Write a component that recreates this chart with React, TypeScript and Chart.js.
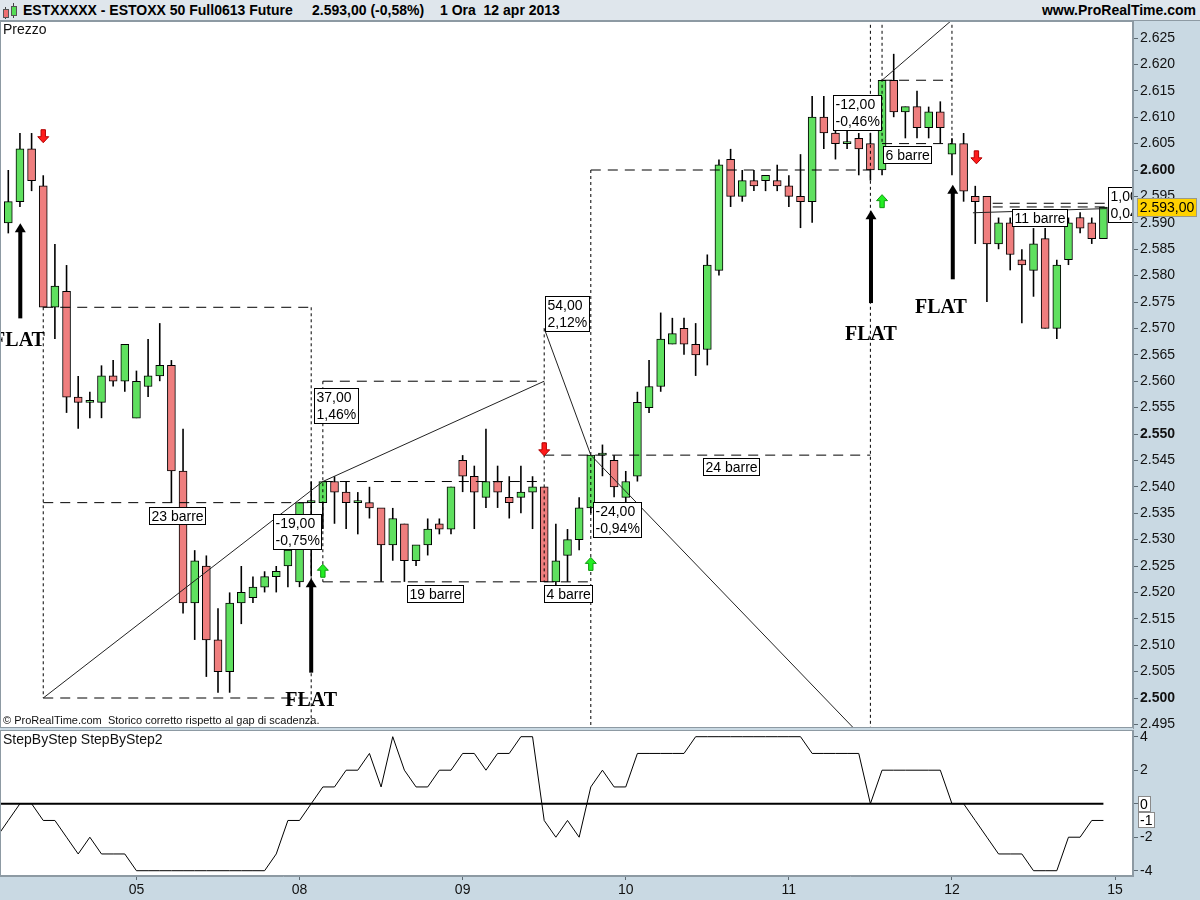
import React, { useEffect, useRef } from 'react';
import { Chart, registerables } from 'chart.js';

Chart.register(...registerables);

const FONT = 'Arial, "Liberation Sans", Helvetica, sans-serif';
const SERIF = '"Times New Roman", "Liberation Serif", "DejaVu Serif", serif';
const AXIS_BG = '#c9d9e3';
const HEADER_BG = '#dfe6ec';
const BORDER = '#8d9aa3';
const GREEN = '#5fe05f';
const RED = '#ef7e7e';

// ---------------- data ----------------
const dayLabels = ['05', '08', '09', '10', '11', '12', '15'];
const dayStartIndex = [11, 25, 39, 53, 67, 81, 95];

const opens = [2590,2594,2604,2597,2574,2577,2557,2556,2556,2561, 2560,2553,2559,2561,2563,2543,2518,2525,2511,2505, 2518,2519,2521,2523,2525,2522,2537,2537,2541,2539, 2537,2537,2536,2529,2533,2526,2529,2533,2532,2545, 2542,2538,2541,2538,2538,2539,2540,2522,2527,2530, 2536,2546,2545,2538,2542,2555,2559,2567,2570,2567, 2566,2581,2602,2595,2598,2598,2598,2597,2595,2594, 2610,2607,2605,2606,2605,2600,2617,2611,2612,2608, 2611,2603,2605,2595,2595,2586,2590,2583,2581,2587, 2570,2583,2591,2590,2587];
const highs = [2600,2607,2607,2599,2586,2582,2561,2558,2563,2564, 2567,2562,2568,2571,2564,2551,2528,2527,2517,2520, 2525,2523,2524,2525,2530,2537,2541,2541,2542,2541, 2539,2540,2536,2536,2533,2529,2534,2534,2540,2546, 2544,2551,2544,2542,2544,2542,2540,2533,2532,2538, 2546,2548,2546,2543,2558,2564,2573,2572,2572,2571, 2584,2602,2604,2600,2600,2599,2601,2599,2603,2614, 2614,2609,2608,2607,2607,2617,2622,2612,2615,2612, 2613,2606,2607,2597,2595,2591,2591,2585,2589,2589, 2583,2591,2592,2591,2593];
const lows = [2588,2593,2596,2574,2568,2554,2551,2553,2553,2559, 2558,2553,2557,2560,2537,2516,2511,2504,2501,2501, 2514,2518,2520,2520,2521,2521,2523,2532,2533,2532, 2531,2534,2522,2526,2522,2525,2527,2531,2531,2539, 2532,2536,2536,2534,2535,2532,2522,2521,2522,2528, 2535,2542,2538,2536,2541,2554,2558,2567,2565,2561, 2563,2580,2593,2594,2596,2596,2596,2593,2589,2590, 2604,2602,2604,2599,2598,2599,2610,2606,2606,2606, 2605,2599,2594,2586,2575,2585,2581,2571,2576,2570, 2568,2582,2588,2586,2587];
const closes = [2594,2604,2598,2574,2578,2557,2556,2556,2561,2560, 2567,2560,2561,2563,2543,2518,2526,2511,2505,2518, 2520,2521,2523,2524,2528,2537,2537,2541,2539,2537, 2537,2536,2529,2534,2526,2529,2532,2532,2540,2542, 2539,2541,2539,2537,2539,2540,2522,2526,2530,2536, 2546,2546,2540,2541,2556,2559,2568,2569,2567,2565, 2582,2601,2595,2598,2597,2599,2597,2595,2594,2610, 2607,2605,2605,2604,2600,2617,2611,2612,2608,2611, 2608,2605,2596,2594,2586,2590,2584,2582,2586,2570, 2582,2590,2589,2587,2593];

// StepByStep indicator, first value belongs to bar index -1
const stepByStep = [-2,
  -1,0,0,-1,-1,-2,-3,-2,-3,-3,
  -3,-4,-4,-4,-4,-4,-4,-4,-4,-4,
  -4,-4,-4,-3,-1,-1,0,1,1,2,
  2,3,1,4,2,1,1,2,2,3,
  3,2,3,3,4,4,-1,-2,-1,-2,
  1,2,1,1,3,3,3,3,3,4,
  4,4,4,4,4,4,4,4,4,3,
  3,3,3,3,0,2,2,2,2,2,
  2,0,0,-1,-2,-3,-3,-3,-4,-4,
  -4,-2,-2,-1,-1];
const stepByStep2Level = 0;

const priceTicks = [2495,2500,2505,2510,2515,2520,2525,2530,2535,2540,2545,2550,2555,2560,2565,2570,2575,2580,2585,2590,2595,2600,2605,2610,2615,2620,2625];
const indicatorTicks = [-4,-3,-2,-1,0,1,2,3,4];
const indicatorLabelled = [-4,-2,2,4];

// drawing objects (bar index, price)
const levelLines = [ // [price, fromIndex, toIndex]
  [2574, 3, 26], [2537, 3, 26], [2500, 3, 26],
  [2560, 27, 46], [2541, 27, 46], [2522, 27, 50],
  [2546, 46, 74], [2600, 50, 74],
  [2617, 75, 81], [2605, 75, 81],
  [2593.7, 84.5, 94.3], [2593.0, 84.5, 94.3],
];
const verticalLines = [ // [index, fromPrice, toPrice]
  [3, 2574, 2500], [26, 2574, 2480], [27, 2560, 2522], [46, 2570, 2522],
  [50, 2600, 2480], [74, 2640, 2480], [75, 2640, 2605], [81, 2640, 2605],
];
const trendLines = [ // [i1, p1, i2, p2]
  [3, 2500, 27, 2541], [27, 2541, 46, 2560], [46, 2570, 50, 2546],
  [50, 2546, 74, 2491], [75, 2617, 82, 2630.3], [82.8, 2591.9, 94.3, 2592.7],
];
const countLabels = [ // [index, price, text]
  [12.08, 2536.2, '23 barre'], [34.2, 2521.4, '19 barre'], [46.0, 2521.4, '4 barre'],
  [59.66, 2545.4, '24 barre'], [75.05, 2604.5, '6 barre'], [86.18, 2592.6, '11 barre'],
];
const changeLabels = [ // [index, price, points, percent]
  [22.75, 2534.8, '-19,00', '-0,75%'], [26.2, 2558.7, '37,00', '1,46%'],
  [46.07, 2576.1, '54,00', '2,12%'], [50.2, 2537.2, '-24,00', '-0,94%'],
  [70.8, 2614.2, '-12,00', '-0,46%'], [94.36, 2596.7, '1,00', '0,04'],
];
const flatArrows = [ // [index, tipPrice, basePrice]
  [1.03, 2589.9, 2571.9], [26, 2522.7, 2504.8], [74.05, 2592.4, 2574.8], [81.07, 2597.2, 2579.3],
];
const flatLabels = [ // [index, price]
  [0.92, 2567.8], [26, 2499.6], [74.05, 2568.9], [80.05, 2574.1],
];
const buySignals = [[27, 2524.1], [50, 2525.4], [75, 2594.1]];
const sellSignals = [[3, 2606.4], [46, 2547.1], [83.1, 2602.4]];

// ---------------- scales ----------------
const X_MIN = -0.712;
const X_MAX = 96.54;
const P_MAX = 2628.22;
const P_MIN = 2494.32;
const IND_MAX = 4.4;
const IND_MIN = -4.316;

const fmtThousands = (v: number) => {
  const s = Math.round(v).toString();
  return s.slice(0, -3) + '.' + s.slice(-3);
};
const fmtPrice = (v: number) => fmtThousands(v) + ',' + (v % 1).toFixed(2).slice(2);

const segData = (segs: number[][]) =>
  segs.flatMap(([x1, y1, x2, y2]) => [{ x: x1, y: y1 }, { x: x2, y: y2 }, { x: x2, y: null as any }]);

function drawTextBox(ctx: CanvasRenderingContext2D, x: number, y: number, lines: string[]) {
  ctx.font = `14px ${FONT}`;
  const w = Math.round(Math.max(...lines.map((l) => ctx.measureText(l).width)) + 4);
  const h = lines.length === 1 ? 17 : 35;
  const rx = Math.round(x) + 0.5;
  const ry = Math.round(y) + 0.5;
  ctx.fillStyle = '#fff';
  ctx.fillRect(rx, ry, w, h);
  ctx.strokeStyle = '#000';
  ctx.lineWidth = 1;
  ctx.strokeRect(rx, ry, w, h);
  ctx.fillStyle = '#000';
  ctx.textBaseline = 'middle';
  ctx.textAlign = 'left';
  lines.forEach((l, k) => ctx.fillText(l, rx + 2, ry + (lines.length === 1 ? 9.5 : 10 + k * 16.5)));
}

function drawSmallArrow(ctx: CanvasRenderingContext2D, x: number, y: number, up: boolean) {
  const s = up ? 1 : -1;
  ctx.beginPath();
  ctx.moveTo(x, y - 6.5 * s);
  ctx.lineTo(x + 5.5, y - 0.5 * s);
  ctx.lineTo(x + 2.2, y - 0.5 * s);
  ctx.lineTo(x + 2.2, y + 6.5 * s);
  ctx.lineTo(x - 2.2, y + 6.5 * s);
  ctx.lineTo(x - 2.2, y - 0.5 * s);
  ctx.lineTo(x - 5.5, y - 0.5 * s);
  ctx.closePath();
  ctx.fillStyle = up ? '#22ee22' : '#ff1a1a';
  ctx.fill();
  ctx.strokeStyle = up ? '#129a12' : '#b00000';
  ctx.lineWidth = 1;
  ctx.stroke();
}

function drawBigArrow(ctx: CanvasRenderingContext2D, x: number, tip: number, base: number) {
  ctx.fillStyle = '#000';
  ctx.fillRect(x - 2, tip + 8, 4, base - tip - 8);
  ctx.beginPath();
  ctx.moveTo(x, tip);
  ctx.lineTo(x + 5.5, tip + 9);
  ctx.lineTo(x - 5.5, tip + 9);
  ctx.closePath();
  ctx.fill();
}

const pricePanelPlugin = {
  id: 'pricePanel',
  beforeDraw(chart: any) {
    const { ctx, chartArea: a } = chart;
    ctx.save();
    ctx.fillStyle = '#fff';
    ctx.fillRect(a.left, a.top, a.right - a.left, a.bottom - a.top);
    ctx.restore();
  },
  afterDatasetsDraw(chart: any) {
    const { ctx, chartArea: a } = chart;
    const xs = chart.scales.x;
    const ys = chart.scales.y;
    const X = (i: number) => xs.getPixelForValue(i);
    const Y = (p: number) => ys.getPixelForValue(p);
    ctx.save();
    ctx.beginPath();
    ctx.rect(a.left, a.top, a.right - a.left, a.bottom - a.top);
    ctx.clip();

    flatArrows.forEach(([i, t, b]) => drawBigArrow(ctx, X(i), Y(t), Y(b)));
    buySignals.forEach(([i, p]) => drawSmallArrow(ctx, X(i), Y(p), true));
    sellSignals.forEach(([i, p]) => drawSmallArrow(ctx, X(i), Y(p), false));

    ctx.font = `bold 20px ${SERIF}`;
    ctx.textAlign = 'center';
    ctx.textBaseline = 'middle';
    ctx.fillStyle = '#000';
    flatLabels.forEach(([i, p]) => ctx.fillText('FLAT', X(i), Y(p) + 1));

    countLabels.forEach(([i, p, t]) => drawTextBox(ctx, X(i as number), Y(p as number), [t as string]));
    changeLabels.forEach(([i, p, a1, a2]) => drawTextBox(ctx, X(i as number), Y(p as number), [a1 as string, a2 as string]));

    ctx.textAlign = 'left';
    ctx.textBaseline = 'middle';
    ctx.fillStyle = '#111';
    ctx.font = `14px ${FONT}`;
    ctx.fillText('Prezzo', a.left + 3, a.top + 9);
    ctx.font = `11px ${FONT}`;
    ctx.fillText('\u00A9 ProRealTime.com  Storico corretto rispetto al gap di scadenza.', a.left + 3, a.bottom - 7);
    ctx.restore();
  },
  afterDraw(chart: any) {
    const { ctx, chartArea: a } = chart;
    const ys = chart.scales.y;
    ctx.save();
    ctx.strokeStyle = BORDER;
    ctx.lineWidth = 1;
    ctx.strokeRect(a.left + 0.5, a.top + 0.5, a.right - a.left - 1, a.bottom - a.top - 1);
    const last = closes[closes.length - 1];
    const y = Math.round(ys.getPixelForValue(last));
    ctx.fillStyle = '#ffd200';
    ctx.fillRect(a.right + 4, y - 9, 60, 19);
    ctx.strokeStyle = '#9a9a8a';
    ctx.strokeRect(a.right + 4.5, y - 8.5, 59, 18);
    ctx.fillStyle = '#000';
    ctx.font = `14px ${FONT}`;
    ctx.textAlign = 'center';
    ctx.textBaseline = 'middle';
    ctx.fillText(fmtPrice(last), a.right + 34, y + 1);
    ctx.restore();
  },
};

const indicatorPanelPlugin = {
  id: 'indicatorPanel',
  beforeDraw(chart: any) {
    const { ctx, chartArea: a } = chart;
    ctx.save();
    ctx.fillStyle = '#fff';
    ctx.fillRect(a.left, a.top, a.right - a.left, a.bottom - a.top);
    ctx.restore();
  },
  afterDraw(chart: any) {
    const { ctx, chartArea: a } = chart;
    const ys = chart.scales.y;
    ctx.save();
    ctx.strokeStyle = BORDER;
    ctx.lineWidth = 1;
    ctx.strokeRect(a.left + 0.5, a.top + 0.5, a.right - a.left - 1, a.bottom - a.top - 1);
    ctx.fillStyle = '#111';
    ctx.font = `14px ${FONT}`;
    ctx.textAlign = 'left';
    ctx.textBaseline = 'middle';
    ctx.fillText('StepByStep StepByStep2', a.left + 3, a.top + 10);
    const boxes = [stepByStep2Level, stepByStep[stepByStep.length - 1]];
    boxes.forEach((v) => {
      const t = String(v);
      const y = Math.round(ys.getPixelForValue(v));
      const w = Math.round(ctx.measureText(t).width + 4);
      ctx.fillStyle = '#fff';
      ctx.fillRect(a.right + 5, y - 8, w, 16);
      ctx.strokeStyle = '#8a8a8a';
      ctx.strokeRect(a.right + 5.5, y - 7.5, w, 15);
      ctx.fillStyle = '#000';
      ctx.fillText(t, a.right + 7, y + 1);
    });
    ctx.restore();
  },
};

export default function App() {
  const priceRef = useRef<HTMLCanvasElement>(null);
  const indRef = useRef<HTMLCanvasElement>(null);

  useEffect(() => {
    document.body.style.margin = '0';
    const idx = opens.map((_, i) => i);
    const bodyData = idx.map((i) => ({ x: i, y: [opens[i], closes[i]] }));
    const wickData = idx.map((i) => ({ x: i, y: [lows[i], highs[i]] }));
    const bodyColors = idx.map((i) => (closes[i] >= opens[i] ? GREEN : RED));
    const levelData = segData(levelLines.map(([p, a, b]) => [a, p, b, p]));
    const vertData = segData(verticalLines.map(([i, a, b]) => [i, a, i, b]));
    const trendData = segData(trendLines);

    const lineBase = { pointRadius: 0, spanGaps: false, borderWidth: 1, order: 0 };

    const c1 = new Chart(priceRef.current as HTMLCanvasElement, {
      type: 'bar',
      data: {
        datasets: [
          { ...lineBase, type: 'line', label: 'trend', data: trendData, borderColor: '#222' } as any,
          { ...lineBase, type: 'line', label: 'levels', data: levelData, borderColor: '#000', borderDash: [10, 7] } as any,
          { ...lineBase, type: 'line', label: 'verticals', data: vertData, borderColor: '#000', borderDash: [3, 3] } as any,
          {
            type: 'bar', label: 'body', data: bodyData, backgroundColor: bodyColors, borderColor: '#000',
            borderWidth: 1, borderSkipped: false, barThickness: 8, minBarLength: 2, grouped: false, order: 1,
          } as any,
          {
            type: 'bar', label: 'wick', data: wickData, backgroundColor: '#000', borderWidth: 0,
            barThickness: 1.6, inflateAmount: 0, grouped: false, order: 2,
          } as any,
        ],
      },
      options: {
        responsive: false,
        animation: false,
        events: [],
        layout: { padding: { left: 0, right: 0, top: 0, bottom: 3 } },
        plugins: { legend: { display: false }, tooltip: { enabled: false } },
        scales: {
          x: { type: 'linear', display: false, min: X_MIN, max: X_MAX, offset: false },
          y: {
            type: 'linear', position: 'right', min: P_MIN, max: P_MAX,
            afterFit: (s: any) => { s.width = 67; s.paddingTop = 0; s.paddingBottom = 0; },
            afterBuildTicks: (s: any) => { s.ticks = priceTicks.map((v) => ({ value: v })); },
            ticks: {
              padding: 2, color: '#111',
              font: (c: any) => ({ family: FONT, size: 14, weight: c.tick && c.tick.value % 50 === 0 ? 'bold' : 'normal' }),
              callback: (v: any) => fmtThousands(Number(v)),
            },
            grid: { drawOnChartArea: false, tickLength: 5, color: '#5c6a73' },
            border: { color: BORDER },
          },
        },
      } as any,
      plugins: [pricePanelPlugin],
    });

    const c2 = new Chart(indRef.current as HTMLCanvasElement, {
      type: 'line',
      data: {
        datasets: [
          {
            label: 'StepByStep2', data: stepByStep.map((_, k) => ({ x: k - 1, y: stepByStep2Level })),
            borderColor: '#000', borderWidth: 2, pointRadius: 0,
          },
          {
            label: 'StepByStep', data: stepByStep.map((v, k) => ({ x: k - 1, y: v })),
            borderColor: '#000', borderWidth: 1, pointRadius: 0,
          },
        ],
      },
      options: {
        responsive: false,
        animation: false,
        events: [],
        layout: { padding: { left: 0, right: 0, top: 2, bottom: 0 } },
        plugins: { legend: { display: false }, tooltip: { enabled: false } },
        scales: {
          x: {
            type: 'linear', min: X_MIN, max: X_MAX, offset: false,
            afterFit: (s: any) => { s.height = 24; s.paddingLeft = 0; s.paddingRight = 0; },
            afterBuildTicks: (s: any) => { s.ticks = dayStartIndex.map((v) => ({ value: v })); },
            ticks: {
              autoSkip: false, maxRotation: 0, padding: 2, color: '#111', font: { family: FONT, size: 14 },
              callback: (v: any) => { const k = dayStartIndex.indexOf(Number(v)); return k >= 0 ? dayLabels[k] : ''; },
            },
            grid: { drawOnChartArea: false, tickLength: 4, color: '#5c6a73' },
            border: { color: BORDER },
          },
          y: {
            type: 'linear', position: 'right', min: IND_MIN, max: IND_MAX,
            afterFit: (s: any) => { s.width = 67; s.paddingTop = 0; s.paddingBottom = 0; },
            afterBuildTicks: (s: any) => { s.ticks = indicatorTicks.map((v) => ({ value: v })); },
            ticks: {
              padding: 2, color: '#111', font: { family: FONT, size: 14 },
              callback: (v: any) => (indicatorLabelled.includes(Number(v)) ? String(v) : ''),
            },
            grid: { drawOnChartArea: false, tickLength: 5, color: '#5c6a73' },
            border: { color: BORDER },
          },
        },
      } as any,
      plugins: [indicatorPanelPlugin],
    });

    return () => {
      c1.destroy();
      c2.destroy();
    };
  }, []);

  const headerText: React.CSSProperties = { position: 'absolute', top: 2, lineHeight: '16px', whiteSpace: 'pre' };

  return (
    <div style={{ position: 'fixed', left: 0, top: 0, width: 1200, height: 900, background: AXIS_BG, overflow: 'hidden', fontFamily: FONT }}>
      <div style={{ position: 'absolute', left: 0, top: 0, width: 1200, height: 20, background: HEADER_BG, borderBottom: `1px solid ${BORDER}`, font: `bold 14px ${FONT}`, color: '#000' }}>
        <div style={{ position: 'absolute', left: 5, top: 7, width: 1, height: 12, background: '#444' }} />
        <div style={{ position: 'absolute', left: 3, top: 9, width: 4, height: 7, background: '#ee7070', border: '1px solid #555' }} />
        <div style={{ position: 'absolute', left: 13, top: 3, width: 1, height: 15, background: '#444' }} />
        <div style={{ position: 'absolute', left: 11, top: 6, width: 4, height: 8, background: '#55dd55', border: '1px solid #555' }} />
        <span style={{ ...headerText, left: 23 }}>ESTXXXXX - ESTOXX 50 Full0613 Future</span>
        <span style={{ ...headerText, left: 312 }}>2.593,00 (-0,58%)</span>
        <span style={{ ...headerText, left: 440 }}>1 Ora  12 apr 2013</span>
        <span style={{ ...headerText, right: 4 }}>www.ProRealTime.com</span>
      </div>
      <canvas ref={priceRef} width={1200} height={710} style={{ position: 'absolute', left: 0, top: 21 }} />
      <canvas ref={indRef} width={1200} height={172} style={{ position: 'absolute', left: 0, top: 728 }} />
    </div>
  );
}
